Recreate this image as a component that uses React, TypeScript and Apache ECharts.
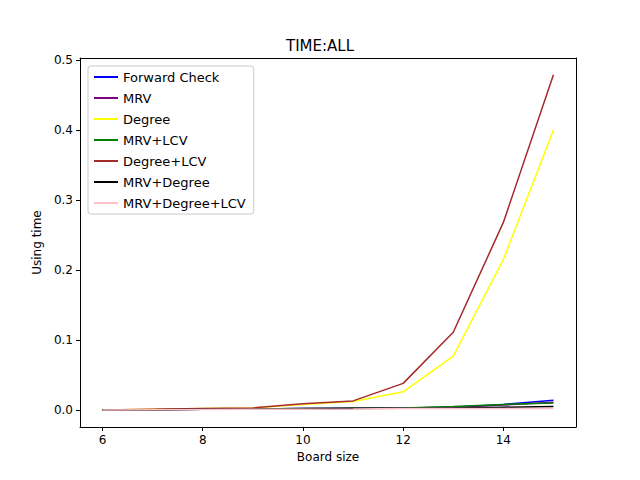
import { useRef, useEffect } from "react";
import * as echarts from "echarts";

const boardSizes = [6, 7, 8, 9, 10, 11, 12, 13, 14, 15];
const forwardCheck = [0, 0.0005, 0.001, 0.0015, 0.002, 0.0025, 0.003, 0.004, 0.008, 0.014];
const mrv = [0, 0.0005, 0.001, 0.0015, 0.002, 0.0025, 0.003, 0.004, 0.007, 0.011];
const degree = [0, 0.001, 0.002, 0.003, 0.008, 0.012, 0.026, 0.077, 0.215, 0.4];
const mrvLcv = [0, 0.0005, 0.001, 0.0015, 0.002, 0.0025, 0.003, 0.005, 0.008, 0.01];
const degreeLcv = [0, 0.001, 0.002, 0.003, 0.009, 0.013, 0.038, 0.111, 0.268, 0.479];
const mrvDegree = [0, 0.0005, 0.001, 0.0012, 0.0015, 0.002, 0.0025, 0.003, 0.004, 0.005];
const mrvDegreeLcv = [0, 0.0004, 0.0008, 0.001, 0.0012, 0.0015, 0.002, 0.002, 0.002, 0.002];
const xTicks = [6, 8, 10, 12, 14];
const yTicks = [0, 0.1, 0.2, 0.3, 0.4, 0.5];

const seriesDefs = [
  { name: "Forward Check", data: forwardCheck, color: "#0000ff" },
  { name: "MRV", data: mrv, color: "#800080" },
  { name: "Degree", data: degree, color: "#ffff00" },
  { name: "MRV+LCV", data: mrvLcv, color: "#008000" },
  { name: "Degree+LCV", data: degreeLcv, color: "#a52a2a" },
  { name: "MRV+Degree", data: mrvDegree, color: "#000000" },
  { name: "MRV+Degree+LCV", data: mrvDegreeLcv, color: "#ffc0cb" },
];

const font = "DejaVu Sans";
const X_MIN = 5.55, X_MAX = 15.45, Y_MIN = -0.0243, Y_MAX = 0.5029;

export default function App() {
  const ref = useRef<HTMLDivElement>(null);
  useEffect(() => {
    if (!ref.current) return;
    const chart = echarts.init(ref.current, undefined, { renderer: "svg" });
    const axisCommon = {
      axisLine: { onZero: false, lineStyle: { color: "#000" } },
      axisTick: { show: true, length: 4, inside: false, lineStyle: { color: "#000" } },
      axisLabel: { color: "#000", fontFamily: font, fontSize: 12 },
      splitLine: { show: false },
      nameLocation: "middle" as const,
      nameTextStyle: { color: "#000", fontFamily: font, fontSize: 12 },
    };
    const boxAxis = {
      type: "value" as const,
      axisLine: { show: true, onZero: false, lineStyle: { color: "#000" } },
      axisTick: { show: false }, axisLabel: { show: false }, splitLine: { show: false },
    };
    chart.setOption({
      animation: false,
      backgroundColor: "#fff",
      title: {
        text: "TIME:ALL", left: "center", top: 33,
        textStyle: { fontFamily: font, fontSize: 15, fontWeight: "normal", color: "#000" },
      },
      grid: { left: 80, right: 64, top: 58, bottom: 53 },
      xAxis: [{
        ...axisCommon, type: "value", min: X_MIN, max: X_MAX, name: "Board size", nameGap: 22,
        axisTick: { ...axisCommon.axisTick, customValues: xTicks },
        axisLabel: { ...axisCommon.axisLabel, customValues: xTicks, margin: 7 },
      }, { ...boxAxis, position: "top", min: X_MIN, max: X_MAX }],
      yAxis: [{
        ...axisCommon, type: "value", min: Y_MIN, max: Y_MAX, name: "Using time", nameGap: 37,
        axisTick: { ...axisCommon.axisTick, customValues: yTicks },
        axisLabel: { ...axisCommon.axisLabel, customValues: yTicks, margin: 7, formatter: (v: number) => v.toFixed(1) },
      }, { ...boxAxis, position: "right", min: Y_MIN, max: Y_MAX }],
      legend: {
        orient: "vertical", left: 88, top: 66, itemGap: 7, itemWidth: 24, itemHeight: 2,
        backgroundColor: "#fff", borderColor: "#ccc", borderWidth: 1, borderRadius: 3, padding: [4, 8, 4, 6],
        textStyle: { fontFamily: font, fontSize: 13, color: "#000", lineHeight: 14 },
        icon: "rect",
        data: seriesDefs.map((s) => s.name),
      },
      series: seriesDefs.map((s) => ({
        name: s.name, type: "line", showSymbol: false, symbol: "none",
        data: boardSizes.map((x, i) => [x, s.data[i]]),
        lineStyle: { color: s.color, width: 1.5 }, itemStyle: { color: s.color },
      })),
    });
    return () => chart.dispose();
  }, []);
  return <div ref={ref} style={{ width: 640, height: 480, margin: -8 }} />;
}
